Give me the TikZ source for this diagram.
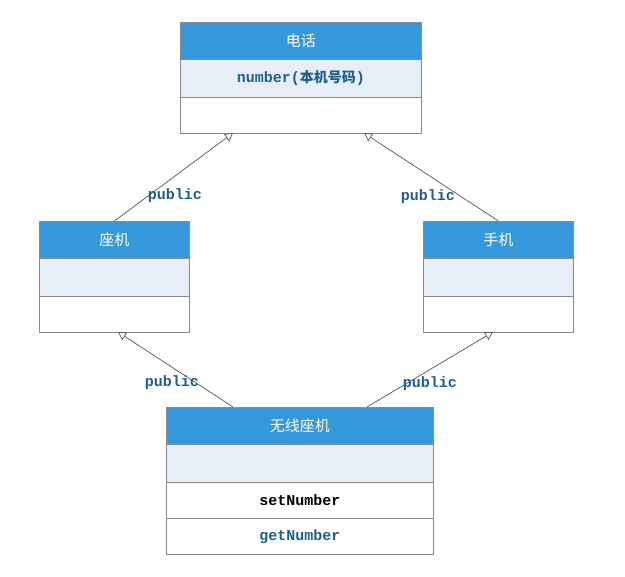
\documentclass[tikz,border=0pt]{standalone}
\usepackage{fontspec}
\setmonofont{Liberation Mono}
\newfontfamily\cjk{Noto Sans CJK SC}
\usetikzlibrary{arrows.meta}
\definecolor{hblue}{HTML}{3498DB}
\definecolor{rowblue}{HTML}{E8EEF7}
\definecolor{txtblue}{HTML}{1F5F8B}
\definecolor{bgray}{HTML}{8A8A8A}
\definecolor{lgray}{HTML}{555555}
\begin{document}
\begin{tikzpicture}[x=1pt,y=-1pt,
  cell/.style={draw=bgray, line width=0.8pt, minimum width=#1, inner sep=0pt, anchor=north west},
  hdr/.style={fill=hblue, text=white, font=\cjk\fontsize{15}{17}\selectfont},
  attr/.style={fill=rowblue, text=txtblue, font=\ttfamily\bfseries\fontsize{15}{17}\selectfont},
  oper/.style={fill=white, font=\ttfamily\bfseries\fontsize{15}{17}\selectfont},
  lbl/.style={text=txtblue, font=\ttfamily\bfseries\fontsize{15}{17}\selectfont, inner sep=0pt},
  inh/.style={draw=lgray, line width=0.7pt, -{Triangle[open, length=8pt, width=9pt]}}
]
\fill[white] (0,0) rectangle (625,577);
\useasboundingbox (0,0) rectangle (625,577);

% 电话
\node[cell=241pt, minimum height=37pt, hdr] (dhH) at (180,22) {电话};
\node[cell=241pt, minimum height=38pt, attr] (dhA) at (180,59) {number(\cjk\fontsize{14}{17}\selectfont 本机号码\ttfamily\fontsize{15}{17}\selectfont)};
\node[cell=241pt, minimum height=36pt, oper] (dhO) at (180,97) {};

% 座机
\node[cell=150pt, minimum height=37pt, hdr] (zjH) at (39,221) {座机};
\node[cell=150pt, minimum height=38pt, attr] (zjA) at (39,258) {};
\node[cell=150pt, minimum height=36pt, oper] (zjO) at (39,296) {};

% 手机
\node[cell=150pt, minimum height=37pt, hdr] (sjH) at (423,221) {手机};
\node[cell=150pt, minimum height=38pt, attr] (sjA) at (423,258) {};
\node[cell=150pt, minimum height=36pt, oper] (sjO) at (423,296) {};

% 无线座机
\node[cell=267pt, minimum height=37pt, hdr] (wxH) at (166,407) {无线座机};
\node[cell=267pt, minimum height=38pt, attr] (wxA) at (166,444) {};
\node[cell=267pt, minimum height=36pt, oper] (wxO1) at (166,482) {setNumber};
\node[cell=267pt, minimum height=36pt, oper, text=txtblue] (wxO2) at (166,518) {getNumber};

% connector ends
\coordinate (t1) at (233,133);
\coordinate (t2) at (364,133);
\coordinate (t3) at (118,332);
\coordinate (t4) at (493,332);
\coordinate (s3) at (233,407);
\coordinate (s4) at (367,407);

\draw[inh] (zjH.north) -- (t1);
\draw[inh] (sjH.north) -- (t2);
\draw[inh] (s3) -- (t3);
\draw[inh] (s4) -- (t4);

\node[lbl] (p1) at (175,196) {public};
\node[lbl] (p2) at (428,197) {public};
\node[lbl] (p3) at (172,383) {public};
\node[lbl] (p4) at (430,384) {public};
\end{tikzpicture}
\end{document}
